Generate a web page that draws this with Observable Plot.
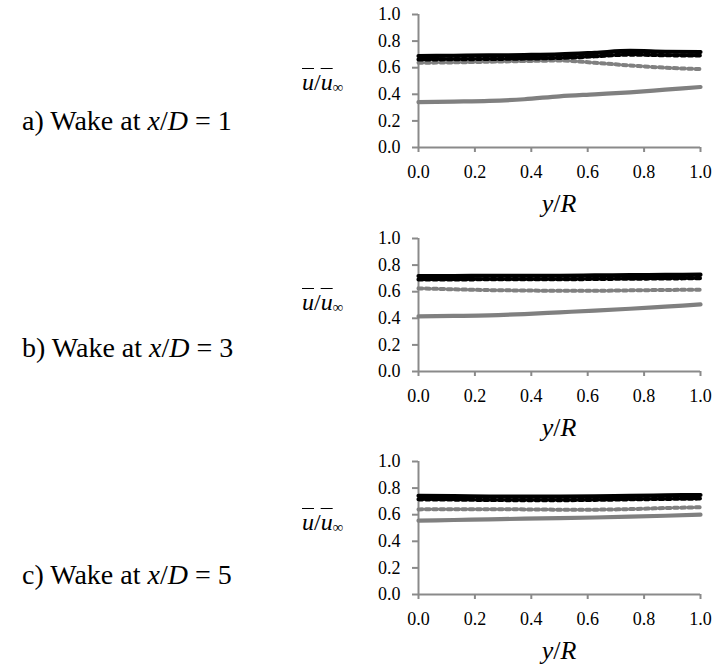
<!DOCTYPE html>
<html>
<head>
<meta charset="utf-8">
<script src="https://cdn.jsdelivr.net/npm/d3@7"></script>
<script src="https://cdn.jsdelivr.net/npm/@observablehq/plot@0.6"></script>
<style>
  html, body { margin: 0; padding: 0; background: #fff; }
  #outer { width: 712px; height: 668px; overflow: hidden; position: relative;
           font-family: "Liberation Serif", "Times New Roman", serif; }
  .panel { position: absolute; left: 0; }
  .lbl { position: absolute; white-space: nowrap; line-height: 1; color: #000;
         font-family: "Liberation Serif", "Times New Roman", serif; }
  .ov { text-decoration: overline; text-decoration-thickness: 1px; }
  sub { font-size: 0.62em; vertical-align: -0.15em; }
</style>
</head>
<body>
<div id="outer"></div>
<script>
// y/R positions of the data points
const yR = [0, 0.125, 0.25, 0.375, 0.5, 0.625, 0.75, 0.875, 1];
const xTicks = [0, 0.2, 0.4, 0.6, 0.8, 1.0];
const yTicks = [0, 0.2, 0.4, 0.6, 0.8, 1.0];
const panelTitles = ["a) Wake at ", "b) Wake at ", "c) Wake at "];
const panelXD = ["1", "3", "5"];

// a) x/D = 1
const aBlackLine    = [0.688, 0.690, 0.692, 0.695, 0.700, 0.712, 0.726, 0.720, 0.718];
const aBlackMarkers = [0.662, 0.664, 0.666, 0.669, 0.674, 0.686, 0.699, 0.694, 0.692];
const aGrayMarkers  = [0.637, 0.640, 0.645, 0.650, 0.654, 0.637, 0.617, 0.600, 0.590];
const aGrayLine     = [0.341, 0.345, 0.350, 0.363, 0.385, 0.400, 0.415, 0.435, 0.455];
// b) x/D = 3
const bBlackLine    = [0.718, 0.718, 0.720, 0.720, 0.720, 0.722, 0.724, 0.726, 0.728];
const bBlackMarkers = [0.692, 0.692, 0.694, 0.694, 0.694, 0.696, 0.698, 0.700, 0.702];
const bGrayMarkers  = [0.625, 0.618, 0.612, 0.609, 0.607, 0.607, 0.610, 0.613, 0.615];
const bGrayLine     = [0.415, 0.418, 0.422, 0.432, 0.445, 0.458, 0.472, 0.488, 0.504];
// c) x/D = 5
const cBlackLine    = [0.742, 0.740, 0.737, 0.736, 0.736, 0.738, 0.742, 0.745, 0.748];
const cBlackMarkers = [0.716, 0.714, 0.711, 0.710, 0.710, 0.712, 0.716, 0.719, 0.722];
const cGrayMarkers  = [0.640, 0.641, 0.641, 0.640, 0.638, 0.638, 0.642, 0.650, 0.656];
const cGrayLine     = [0.555, 0.560, 0.565, 0.570, 0.574, 0.579, 0.585, 0.592, 0.600];

const panels = [
  {series: [aGrayLine, aGrayMarkers, aBlackMarkers, aBlackLine], top: 0,   titleBase: 130, yLblBase: 90},
  {series: [bGrayLine, bGrayMarkers, bBlackMarkers, bBlackLine], top: 224, titleBase: 357, yLblBase: 310},
  {series: [cGrayLine, cGrayMarkers, cBlackMarkers, cBlackLine], top: 447, titleBase: 584, yLblBase: 530}
];

const FONT = '"Liberation Serif", "Times New Roman", serif';
const AX = "#8a8a8a";
const GRAY = "#808080";
const W = 712, H = 224, ML = 418, MR = 12, MT = 14, MB = 77;
const outer = document.getElementById("outer");

function rows(vals) { return yR.map((x, i) => ({x, v: vals[i]})); }

panels.forEach((p, k) => {
  const [gl, gm, bm, bl] = p.series;
  const chart = Plot.plot({
    width: W, height: H,
    marginLeft: ML, marginRight: MR, marginTop: MT, marginBottom: MB,
    style: {fontFamily: FONT, fontSize: "18px", background: "transparent", overflow: "visible"},
    x: {domain: [0, 1], label: null},
    y: {domain: [0, 1], label: null},
    marks: [
      Plot.axisX({ticks: xTicks, tickFormat: d3.format(".1f"), tickSize: 5, tickPadding: 13, stroke: AX, strokeWidth: 2, fill: "#000", label: null}),
      Plot.axisY({ticks: yTicks, tickFormat: d3.format(".1f"), tickSize: 6, tickPadding: 12, stroke: AX, strokeWidth: 2, fill: "#000", label: null}),
      Plot.ruleY([0], {stroke: AX, strokeWidth: 2}),
      Plot.ruleX([0], {stroke: AX, strokeWidth: 2}),
      Plot.line(rows(gl), {x: "x", y: "v", stroke: GRAY, strokeWidth: 4.2, curve: "monotone-x"}),
      Plot.line(rows(gm), {x: "x", y: "v", stroke: GRAY, strokeWidth: 4, strokeDasharray: "3.8,3.5", curve: "monotone-x"}),
      Plot.line(rows(bm), {x: "x", y: "v", stroke: "#000", strokeWidth: 4.2, strokeDasharray: "4,3.3", curve: "monotone-x"}),
      Plot.line(rows(bl), {x: "x", y: "v", stroke: "#000", strokeWidth: 4.2, curve: "monotone-x"})
    ]
  });
  chart.classList.add("panel");
  chart.style.top = p.top + "px";
  outer.appendChild(chart);

  // panel title, left
  const t = document.createElement("div");
  t.className = "lbl";
  t.style.fontSize = "28px";
  t.style.left = "22px";
  t.style.top = (p.titleBase - 0.8375 * 28) + "px";
  t.innerHTML = panelTitles[k] + "<i>x</i>/<i>D</i> = " + panelXD[k];
  outer.appendChild(t);

  // y-axis label
  const y = document.createElement("div");
  y.className = "lbl";
  y.style.fontSize = "24px";
  y.style.left = "302px";
  y.style.top = (p.yLblBase - 0.8375 * 24) + "px";
  y.innerHTML = '<i class="ov">u</i>/<i class="ov">u</i><sub>∞</sub>';
  outer.appendChild(y);

  // x-axis label
  const xl = document.createElement("div");
  xl.className = "lbl";
  xl.style.fontSize = "26px";
  xl.style.left = (ML + (W - MR - ML) / 2 - 30) + "px";
  xl.style.width = "60px";
  xl.style.textAlign = "center";
  xl.style.top = (p.top + H - MB + 66 - 0.8375 * 26) + "px";
  xl.innerHTML = "<i>y</i>/<i>R</i>";
  outer.appendChild(xl);
});
</script>
</body>
</html>
